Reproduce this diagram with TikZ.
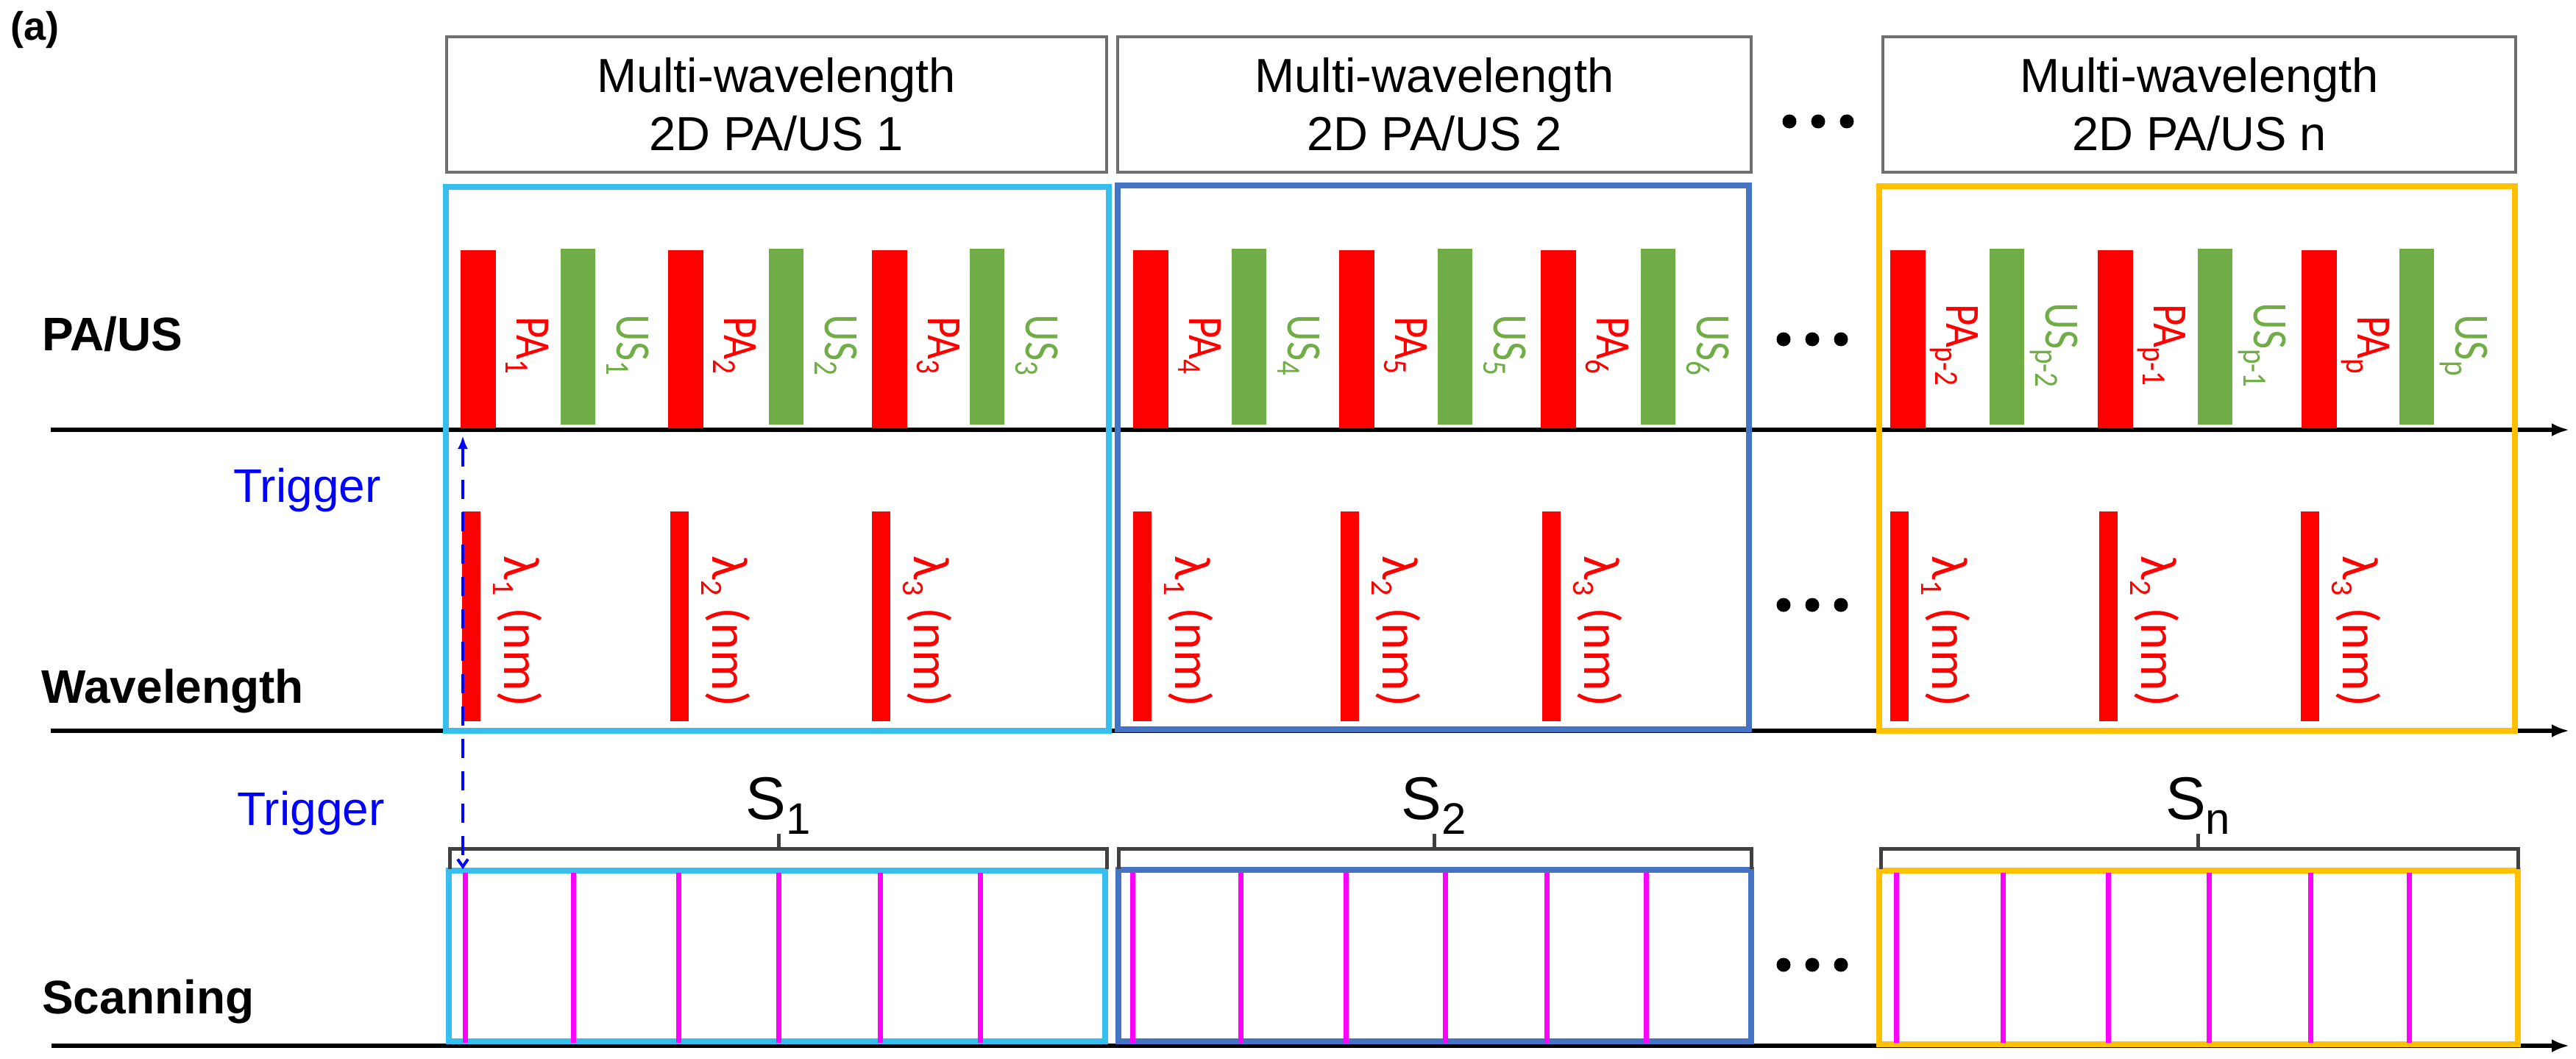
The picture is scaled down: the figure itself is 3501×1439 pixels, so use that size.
\documentclass[tikz,border=0pt]{standalone}
\usepackage{fontspec}
\setmainfont{Liberation Sans}
\newfontfamily\calib{Carlito}
\usetikzlibrary{arrows.meta}
\definecolor{cyanF}{RGB}{53,190,238}
\definecolor{blueF}{RGB}{68,114,196}
\definecolor{goldF}{RGB}{255,192,0}
\definecolor{redB}{RGB}{255,0,0}
\definecolor{greenB}{RGB}{112,173,71}
\definecolor{magL}{RGB}{255,0,255}
\definecolor{trigC}{RGB}{0,0,255}
\definecolor{hdrC}{RGB}{110,110,110}
\definecolor{brkC}{RGB}{64,64,64}
\begin{document}
\begin{tikzpicture}[x=1pt,y=-1pt,
  axis/.style={line width=6pt,-{Latex[length=24pt,width=18pt]}},
  hdr/.style={draw=hdrC,line width=4pt,align=center,inner sep=0pt,font=\fontsize{65}{79}\selectfont},
  frm/.style={line width=8pt,inner sep=0pt},
  scl/.style={draw=magL,line width=7pt},
  brk/.style={draw=brkC,line width=5pt},
  dotn/.style={circle,fill=black,inner sep=0pt,minimum size=19pt},
  rowlab/.style={anchor=base west,inner sep=0pt,font=\fontsize{64}{64}\selectfont\bfseries},
  triglab/.style={anchor=base west,inner sep=0pt,text=trigC,font=\fontsize{64}{64}\selectfont},
  barlab/.style={rotate=-90,anchor=base,inner sep=0pt,font=\calib\fontsize{67}{67}\selectfont},
  wavlab/.style={rotate=-90,anchor=base,inner sep=0pt,font=\calib\fontsize{70}{70}\selectfont},
  slab/.style={anchor=base,inner sep=0pt,font=\fontsize{82}{82}\selectfont},
  trigline/.style={draw=trigC,line width=4pt,dash pattern=on 26pt off 18pt}
]
\useasboundingbox[fill=white] (0,0) rectangle (3501,1439);

% panel label
\node[anchor=base west,inner sep=0pt,font=\fontsize{54}{54}\selectfont\bfseries] (plabel) at (14,55) {(a)};

% header boxes
\node[hdr,minimum width=897pt,minimum height=184pt] (h1) at (1055,142) {Multi-wavelength\\2D PA/US 1};
\node[hdr,minimum width=861pt,minimum height=184pt] (h2) at (1949.5,142) {Multi-wavelength\\2D PA/US 2};
\node[hdr,minimum width=860pt,minimum height=184pt] (h3) at (2989,142) {Multi-wavelength\\2D PA/US n};

% axes
\coordinate (a1s) at (69,584);  \coordinate (a1e) at (3492,584);
\coordinate (a2s) at (69,993);  \coordinate (a2e) at (3492,993);
\coordinate (a3s) at (70,1421); \coordinate (a3e) at (3492,1421);
\draw[axis] (a1s) -- (a1e);
\draw[axis] (a2s) -- (a2e);
\draw[axis] (a3s) -- (a3e);

% row labels
\node[rowlab] (lpaus) at (57,476) {PA/US};
\node[rowlab] (lwave) at (56,955) {Wavelength};
\node[rowlab] (lscan) at (57,1377) {Scanning};
\node[triglab] (trig1) at (317,682) {Trigger};
\node[triglab] (trig2) at (322,1121) {Trigger};

% frames
\node[frm,draw=cyanF,minimum width=901pt,minimum height=739pt] (f1) at (1056.5,623.5) {};
\node[frm,draw=blueF,minimum width=858pt,minimum height=739pt] (f2) at (1948,621.5) {};
\node[frm,draw=goldF,minimum width=864pt,minimum height=740pt] (f3) at (2986,623) {};

% PA bars and labels
\foreach \x/\s [count=\i] in {626/1,908/2,1185/3,1540/4,1820/5,2094/6,2569/{p-2},2851/{p-1},3128/p}{
  \fill[redB] (\x,340) rectangle ++(48,242);
  \node[barlab,text=redB] (pal\i) at (\x+76,469) {\scalebox{0.85}[1]{PA\raisebox{-15pt}{\fontsize{46}{46}\selectfont \s}}};
}
% US bars and labels
\foreach \x/\s [count=\i] in {762/1,1045/2,1318/3,1674/4,1954/5,2230/6,2704/{p-2},2987/{p-1},3261/p}{
  \fill[greenB] (\x,338) rectangle ++(47,239);
  \node[barlab,text=greenB] (usl\i) at (\x+76,469) {\scalebox{0.85}[1]{US\raisebox{-14pt}{\fontsize{46}{46}\selectfont \s}}};
}
% wavelength bars and labels
\foreach \x/\s [count=\i] in {628/1,911/2,1185/3,1540/1,1822/2,2096/3,2569/1,2853/2,3127/3}{
  \fill[redB] (\x,695) rectangle ++(25,285);
  \node[wavlab,text=redB] (wl\i) at (\x+57,858) {λ\raisebox{-15pt}{\fontsize{42}{42}\selectfont \s} (nm)};
}

% dots
\foreach \y [count=\j] in {461,822,1311}{
  \foreach \x [count=\k] in {2424,2463,2502}{
    \node[dotn] (d\j\k) at (\x,\y) {};
  }
}
\foreach \x [count=\k] in {2432,2471,2510}{
  \node[dotn] (dh\k) at (\x,165) {};
}

% scan boxes
\node[frm,draw=cyanF,minimum width=892pt,minimum height=232pt] (s1) at (1056,1299) {};
\node[frm,draw=blueF,minimum width=860pt,minimum height=233pt] (s2) at (1950,1298.5) {};
\node[frm,draw=goldF,minimum width=868pt,minimum height=236pt] (s3) at (2988,1301) {};
\foreach \x in {632,779,922,1058,1196,1332,1539,1686,1829,1964,2102,2237,2577,2722,2865,3002,3140,3274}{
  \draw[scl] (\x,1186) -- (\x,1417);
}

% brackets and S labels
\foreach \l/\r/\c/\t [count=\i] in {611/1504/1058/1,1520/2380/1949/2,2556/3422/2987/n}{
  \draw[brk] (\l,1181) -- (\l,1153) -- (\r,1153) -- (\r,1181);
  \coordinate (bt\i) at (\c,1133);
  \draw[brk] (\c,1153) -- (bt\i);
  \node[slab] (sl\i) at (\c,1113) {S\raisebox{-20pt}{\fontsize{60}{60}\selectfont \t}};
}

% trigger line
\coordinate (tgTop) at (629,592);
\coordinate (tgBot) at (629,1181);
\draw[trigline,{Latex[length=18pt,width=14pt]}-{Straight Barb[length=10pt,width=14pt]}] (tgTop) -- (tgBot);
\end{tikzpicture}
\end{document}
